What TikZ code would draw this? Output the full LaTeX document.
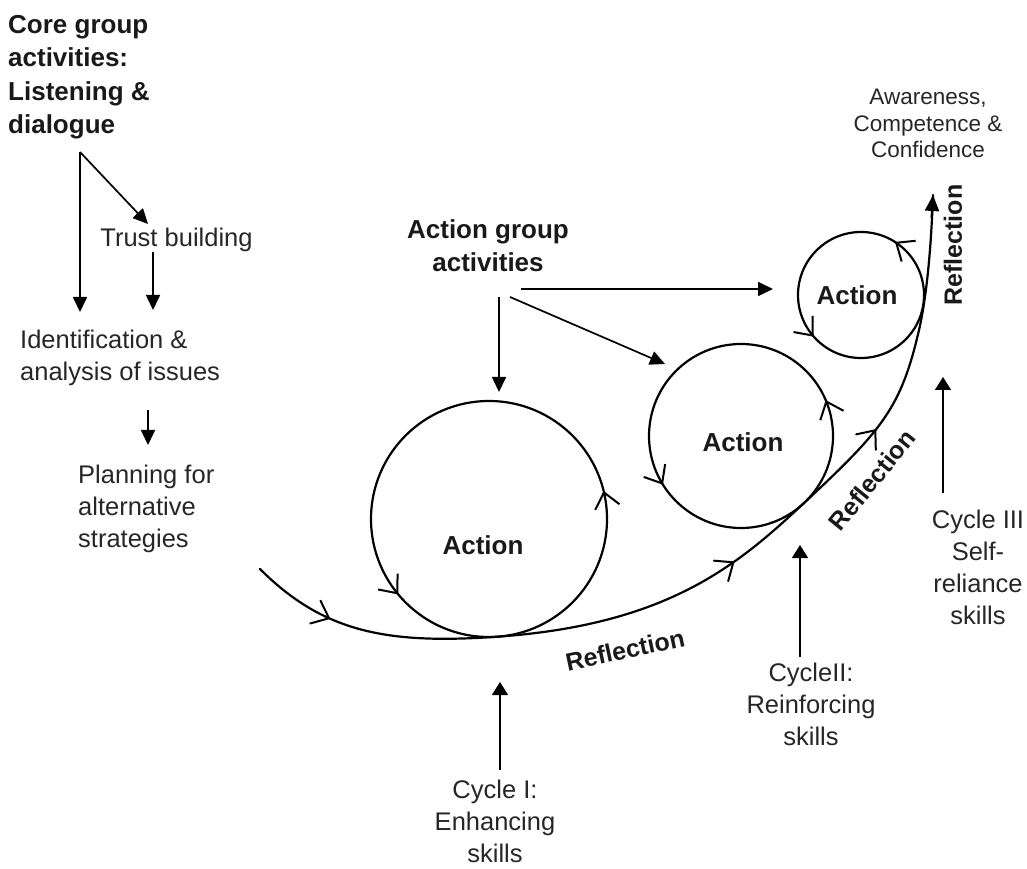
\documentclass[tikz,border=0pt]{standalone}
\usepackage{fontspec}
\setmainfont{Liberation Sans}
\usetikzlibrary{arrows.meta,decorations.markings}
\newcommand\spiralbarb{\draw[-, line width=2pt] (-15pt,12.5pt) -- (0pt,0pt) -- (-15pt,-12.5pt);}
\newcommand\ringbarb[3]{\draw[-, line width=2pt, shift={(#1)}, rotate=#3] ({#2-12.5},-15) -- (#2,0) -- ({#2+12.5},-15);}
\begin{document}
\begin{tikzpicture}[x=1pt,y=1pt,
  txt/.style={font=\fontsize{25.5}{32}\selectfont, inner sep=0pt, text=black!85},
  btxt/.style={font=\bfseries\fontsize{26}{33.5}\selectfont, inner sep=0pt, text=black!90},
  rtxt/.style={font=\bfseries\fontsize{25}{30}\selectfont, inner sep=0pt, text=black!90},
  smalltxt/.style={font=\fontsize{22.5}{26.5}\selectfont, inner sep=0pt, text=black!85},
  arr/.style={line width=1.7pt, -{Triangle[length=15pt,width=14pt]}},
  cycarr/.style={line width=1.3pt, -{Triangle[length=13pt,width=16pt]}},
  ring/.style={draw, circle, line width=2.2pt, inner sep=0pt},
  spiral/.style={line width=2.2pt, line cap=round}
]
\useasboundingbox (0,0) rectangle (1027,868);

% rings
\node[ring, minimum size=236pt] (c1) at (489,349) {};
\node[ring, minimum size=184pt] (c2) at (741,432) {};
\node[ring, minimum size=126pt] (c3) at (861,573) {};
\ringbarb{c1.center}{118}{219}
\ringbarb{c1.center}{118}{13}
\ringbarb{c2.center}{92}{211}
\ringbarb{c2.center}{92}{22}
\ringbarb{c3.center}{63}{220}
\ringbarb{c3.center}{63}{56}

\node[btxt] (a1) at (483,323) {Action};
\node[btxt] (a2) at (743,426) {Action};
\node[btxt] (a3) at (857,573) {Action};

% spiral of reflection
\coordinate (s0) at (260,299);
\coordinate (t1) at ([shift={(-86:118)}]c1.center);
\coordinate (t2) at ([shift={(-48:92)}]c2.center);
\coordinate (t3) at (919,538);
\coordinate (s4) at (933,673);
\draw[spiral,
  postaction={decorate, decoration={markings,
    mark=at position 0.09 with {\spiralbarb},
    mark=at position 0.535 with {\spiralbarb},
    mark=at position 0.74 with {\spiralbarb}}}]
  (s0) .. controls (323.6,235.4) and (387.5,223.6) .. (t1)
       .. controls (666.8,243.2) and (736.8,302.2) .. (t2)
       .. controls (883,438.6) and (901,460.1) .. (t3)
       .. controls (928,577) and (931.6,633) .. (s4);
\draw[spiral, -{Triangle[length=16pt,width=14pt]}] (931.6,650) -- (s4);

\node[rtxt, rotate=12] (r1) at (625,218) {Reflection};
\node[rtxt, rotate=51] (r2) at (872,388) {Reflection};
\node[rtxt, rotate=90] (r3) at (953,623) {Reflection};

% left column
\node[btxt, anchor=north west, align=left] (core) at (8,853) {Core group\\activities:\\Listening \&\\dialogue};
\node[txt, anchor=base] (trust) at (176.5,621) {Trust building};
\node[txt, anchor=north west, align=left] (ident) at (20,538.6) {Identification \&\\analysis of issues};
\node[txt, anchor=north west, align=left] (plan) at (78,403.6) {Planning for\\alternative\\strategies};

\coordinate (cgv) at (80,716);
\coordinate (cgd) at (80,556);
\coordinate (tbin) at (148,644);
\coordinate (tbo) at (153,616);
\coordinate (tbd) at (153,558);
\coordinate (ido) at (148,458);
\coordinate (idd) at (148,423);
\draw[arr] (cgv) -- (cgd);
\draw[arr] (cgv) -- (tbin);
\draw[arr] (tbo) -- (tbd);
\draw[arr] (ido) -- (idd);

% action group
\node[btxt, anchor=north, align=center] (agroup) at (488,648.6) {Action group\\activities};
\coordinate (ag1) at (499,571);
\coordinate (ag1e) at (499,476);
\coordinate (ag2) at (510,571);
\coordinate (ag2e) at (665,504);
\coordinate (ag3) at (521,579);
\coordinate (ag3e) at (773,579);
\draw[arr] (ag1) -- (ag1e);
\draw[arr] (ag2) -- (ag2e);
\draw[arr] (ag3) -- (ag3e);

% outcome
\node[smalltxt, anchor=north, align=center] (acc) at (928,779) {Awareness,\\Competence \&\\Confidence};

% cycles
\node[txt, anchor=north, align=center] (cyc1) at (495,88) {Cycle I:\\Enhancing\\skills};
\node[txt, anchor=north, align=center] (cyc2) at (811,205.6) {CycleII:\\Reinforcing\\skills};
\node[txt, anchor=north, align=center] (cyc3) at (978,358.6) {Cycle III\\Self-\\reliance\\skills};
\coordinate (k1) at (500,98);
\coordinate (k1e) at (500,186);
\coordinate (k2) at (800,211);
\coordinate (k2e) at (800,323);
\coordinate (k3) at (943,375);
\coordinate (k3e) at (943,491);
\draw[cycarr] (k1) -- (k1e);
\draw[cycarr] (k2) -- (k2e);
\draw[cycarr] (k3) -- (k3e);
\end{tikzpicture}
\end{document}
